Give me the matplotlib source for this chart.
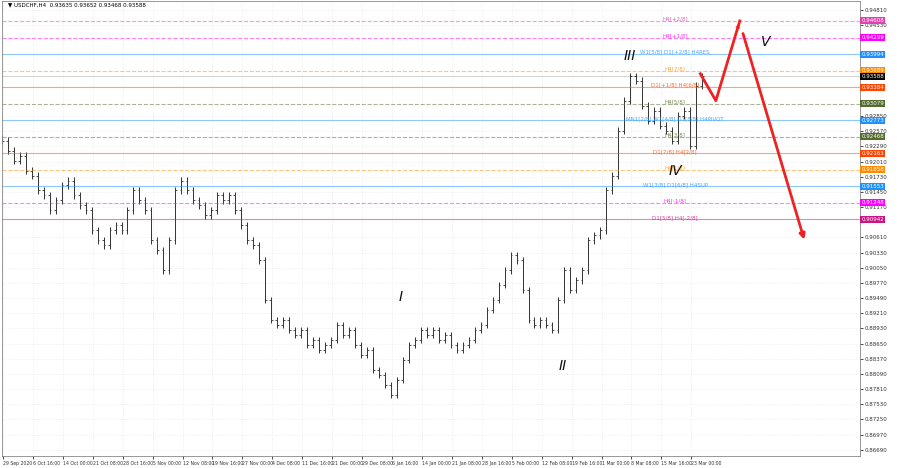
import matplotlib
matplotlib.use("Agg")
import matplotlib.pyplot as plt
import numpy as np

# price read at px-steps of 6 (one "bar" per step)
closes_px = [140,150,160,155,170,175,190,195,210,200,185,180,195,205,210,230,240,245,230,225,230,210,190,200,210,240,250,270,240,190,
             180,190,200,205,215,210,195,200,195,210,225,240,245,260,300,320,325,320,330,335,330,345,340,350,345,340,325,335,330,345,
             355,350,370,375,385,395,380,360,345,340,330,335,330,340,335,345,350,345,340,330,325,310,300,285,270,255,260,290,320,325,
             320,325,330,300,270,290,280,270,240,235,230,190,175,130,100,75,80,105,120,110,125,130,140,115,110,145,85,75]

def px2p(y):
    return 0.94608 - (y - 20) * 0.0001842

closes = [px2p(v) for v in closes_px]

date_labels = ["29 Sep 2020","6 Oct 16:00","14 Oct 00:00","21 Oct 08:00","28 Oct 16:00","5 Nov 00:00","12 Nov 08:00",
               "19 Nov 16:00","27 Nov 00:00","4 Dec 08:00","11 Dec 16:00","21 Dec 00:00","29 Dec 08:00","6 Jan 16:00",
               "14 Jan 00:00","21 Jan 08:00","28 Jan 16:00","5 Feb 00:00","12 Feb 08:00","19 Feb 16:00","1 Mar 00:00",
               "8 Mar 08:00","15 Mar 16:00","23 Mar 00:00"]

levels = [0.94608,0.94299,0.93994,0.93689,0.93384,0.93079,0.92773,0.92468,0.92163,0.91858,0.91553,0.91248,0.90942]
level_colors = ["#e040b0","#ff00ff","#1e90ff","#ff8c00","#ff4500","#556b2f","#1e90ff","#556b2f","#ff4500","#ff8c00","#1e90ff","#ff00ff","#c71585"]
level_styles = ["--","--","-","--","-","--","-","--","-","--","-","--","-"]
level_text = ["H4[+2/8]","H4[+1/8]","W1[5/8] D1[+2/8] H4RES","H4[7/8]","D1[+1/8] H4[6/8]","H4[5/8]",
              "MN1[2/8] W1[4/8] D1[8/8] H4PIVOT","H4[3/8]","D1[7/8] H4[2/8]","H4[1/8]","W1[3/8] D1[6/8] H4SUP",
              "H4[-1/8]","D1[5/8] H4[-2/8]"]

proj_x = [116.7, 119.3, 123.3]
proj_y = [px2p(73), px2p(100), px2p(20)]
proj2_x = [123.7, 134.2]
proj2_y = [px2p(30), px2p(242)]

waves = ["I", "II", "III", "IV", "V"]
wave_x = [66.7, 93.8, 105.0, 112.5, 127.7]
wave_y = [px2p(297), px2p(366), px2p(55), px2p(170), px2p(41)]

fig = plt.figure(figsize=(9, 4.68), dpi=100)
ax = fig.add_axes([0.002, 0.026, 0.953, 0.972])
ax.set_facecolor("white")

n = len(closes)
for i in range(n):
    o = closes[i-1] if i > 0 else closes[0] + 0.0005
    c = closes[i]
    hi = max(o, c) + 0.0006
    lo = min(o, c) - 0.0006
    ax.vlines(i, lo, hi, color="#333333", lw=0.7)
    ax.hlines(o, i-0.3, i, color="#333333", lw=0.6)
    ax.hlines(c, i, i+0.3, color="#333333", lw=0.6)

for lv, col, ls, t in zip(levels, level_colors, level_styles, level_text):
    ax.axhline(lv, color=col, ls=ls, lw=0.8, alpha=0.5)
    ax.text(112.5, lv + 0.00035, t, color=col, fontsize=4, ha="center", va="center", alpha=0.8)
    ax.text(143.6, lv, f"{lv:.5f}", color="white", fontsize=4, va="center",
            bbox=dict(boxstyle="square,pad=0.2", fc=col, ec="none"), clip_on=False)
ax.axhline(0.93588, color="black", lw=0.6, alpha=0.2)
ax.text(143.6, 0.93588, "0.93588", color="white", fontsize=4, va="center",
        bbox=dict(boxstyle="square,pad=0.2", fc="black", ec="none"), clip_on=False)

ax.plot(proj_x, proj_y, color="#ee2222", lw=2)
ax.annotate("", xy=(proj2_x[1], proj2_y[1]), xytext=(proj2_x[0], proj2_y[0]),
            arrowprops=dict(arrowstyle="-|>", color="#ee2222", lw=2, mutation_scale=8))
ax.annotate("", xy=(proj_x[2], proj_y[2]), xytext=(proj_x[1], proj_y[1]),
            arrowprops=dict(arrowstyle="-|>", color="#ee2222", lw=0.1, mutation_scale=8))

for w, x, y in zip(waves, wave_x, wave_y):
    ax.text(x, y, w, fontsize=10, style="italic", ha="center", va="center", color="#111111")

ax.set_xlim(0, 143.3)
ax.set_ylim(px2p(456), px2p(0))
all_marks = levels + [0.93588]
yt = [0.86690 + 0.0028*k for k in range(30)]
yt = [v for v in yt if min(abs(v - m) for m in all_marks) > 0.0007]
ax.yaxis.tick_right()
ax.set_yticks(yt)
ax.set_yticklabels([f"{v:.5f}" for v in yt], fontsize=4, color="#333333")
ax.set_xticks([0.2 + 5*k for k in range(len(date_labels))])
ax.set_xticklabels(date_labels, fontsize=3.3, ha="left", color="#333333")
ax.tick_params(length=2, width=0.5, pad=1.5)
ax.grid(True, color="#e6e6e6", lw=0.5, ls=":")
for s in ax.spines.values():
    s.set_color("#888888"); s.set_linewidth(0.6)
ax.text(1, px2p(4), "▼ USDCHF,H4  0.93635 0.93652 0.93468 0.93588", fontsize=4, va="center")

fig.savefig("out.png", dpi=100)
